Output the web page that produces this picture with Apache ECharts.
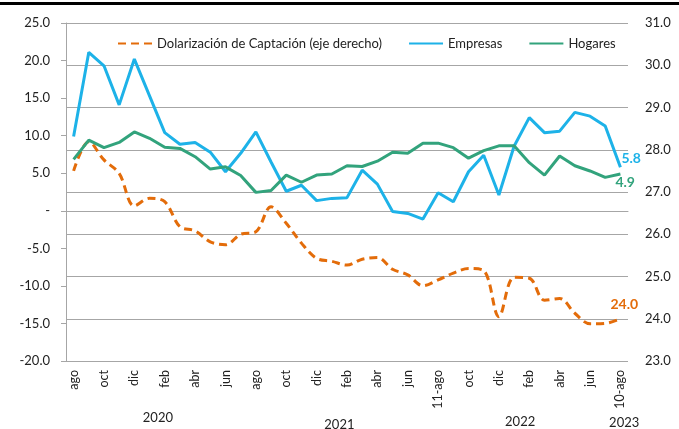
<!DOCTYPE html>
<html>
<head>
<meta charset="utf-8">
<style>
    html, body {margin: 0; padding: 0; background: #fff;}
    #chart {width: 679px; height: 429px;}
</style>
<script src="https://cdn.jsdelivr.net/npm/echarts@6/dist/echarts.min.js"></script>
</head>
<body>
<div id="chart"></div>
<script>
// meses (ago 2020 - ago 2023)
let months = ['ago', 'sep', 'oct', 'nov', 'dic', 'ene', 'feb', 'mar', 'abr', 'may', 'jun', 'jul',
    'ago', 'sep', 'oct', 'nov', 'dic', 'ene', 'feb', 'mar', 'abr', 'may', 'jun', 'jul',
    '11-ago', 'sep', 'oct', 'nov', 'dic', 'ene', 'feb', 'mar', 'abr', 'may', 'jun', 'jul', '10-ago']

let empresas = [9.9, 21.1, 19.3, 14.1, 20.2, 15.3, 10.4, 8.85, 9.1, 7.8, 5.2, 7.65, 10.5, 6.5, 2.6, 3.4, 1.35, 1.65,
    1.75, 5.4, 3.55, -0.1, -0.35, -1.1, 2.4, 1.2, 5.2, 7.4, 2.1, 8.6, 12.4, 10.4, 10.6, 13.1, 12.6, 11.3, 5.8]
let hogares = [6.85, 9.4, 8.4, 9.1, 10.5, 9.65, 8.45, 8.3, 7.2, 5.55, 5.85, 4.7, 2.45, 2.7, 4.75, 3.8, 4.75, 4.9,
    6.0, 5.9, 6.6, 7.8, 7.65, 9.0, 9.0, 8.4, 7.0, 8.0, 8.65, 8.65, 6.4, 4.75, 7.3, 6.0, 5.3, 4.45, 4.9]
// eje derecho
let dolarizacion = [27.5, 28.19, 27.76, 27.44, 26.67, 26.85, 26.77, 26.18, 26.08, 25.82, 25.75, 26.0, 26.06, 26.65,
    26.26, 25.79, 25.43, 25.36, 25.27, 25.41, 25.45, 25.17, 25.04, 24.78, 24.92, 25.08, 25.19, 25.14, 24.05, 24.98,
    24.96, 24.44, 24.48, 24.13, 23.88, 23.89, 24.0]

// etiquetas de año: texto, posición (índice de categoría)
let yearNames = ['2020', '2021', '2022', '2023']
let yearAt = [5.55, 17.5, 29.4, 36.25]
let yearTop = [418, 425, 422, 423]

let fontFamily = 'Lato, "Liberation Sans", sans-serif'
let textColor = '#222'

let chart = echarts.init(document.getElementById('chart'))

// etiqueta del último dato
function endLabel(color, offset) {
    return {
        show: true,
        distance: 0,
        offset: offset,
        color: color,
        fontWeight: 'bold',
        fontSize: 14,
        fontFamily: fontFamily,
        formatter: function (p) {
            return p.value.toFixed(1)
        }
    }
}

chart.setOption({
    animation: false,
    backgroundColor: '#fff',
    grid: {left: 66, right: 51, top: 23, bottom: 68},
    legend: {
        left: 112,
        top: 32,
        itemGap: 26,
        itemWidth: 34,
        itemHeight: 14,
        itemStyle: {opacity: 0},
        textStyle: {fontSize: 13, color: textColor, fontFamily: fontFamily},
        data: ['Dolarización de Captación (eje derecho)', 'Empresas', 'Hogares']
    },
    xAxis: {
        type: 'category',
        data: months,
        boundaryGap: true,
        axisLine: {lineStyle: {color: '#a6a6a6', width: 1}},
        axisTick: {show: false},
        axisLabel: {
            interval: 1,
            rotate: 90,
            margin: 9,
            fontSize: 12.5,
            color: textColor,
            fontFamily: fontFamily
        }
    },
    yAxis: [{
        type: 'value',
        min: -20,
        max: 25,
        interval: 5,
        splitLine: {show: false},
        axisLine: {show: true, lineStyle: {color: '#a6a6a6', width: 1}},
        axisTick: {show: true, length: 5, lineStyle: {color: '#a6a6a6'}},
        axisLabel: {
            margin: 16,
            fontSize: 13,
            color: textColor,
            fontFamily: fontFamily,
            formatter: function (v) {
                return v === 0 ? '-' : v.toFixed(1)
            }
        }
    }, {
        type: 'value',
        min: 23,
        max: 31,
        interval: 1,
        splitLine: {lineStyle: {color: '#a6a6a6', width: 1}},
        axisLine: {show: false},
        axisTick: {show: false},
        axisLabel: {
            margin: 17,
            fontSize: 13,
            color: textColor,
            fontFamily: fontFamily,
            formatter: function (v) {
                return v.toFixed(1)
            }
        }
    }],
    series: [
        {
            name: 'Dolarización de Captación (eje derecho)',
            type: 'line',
            yAxisIndex: 1,
            data: dolarizacion,
            smooth: 0.35,
            symbol: 'none',
            lineStyle: {color: '#e36c0a', width: 3, type: [8, 5]},
            itemStyle: {color: '#e36c0a'},
            endLabel: endLabel('#e36c0a', [-10, -14])
        },
        {
            name: 'Empresas',
            type: 'line',
            data: empresas,
            symbol: 'none',
            lineStyle: {color: '#1db2e8', width: 3},
            itemStyle: {color: '#1db2e8'},
            endLabel: endLabel('#1db2e8', [1, -9])
        },
        {
            name: 'Hogares',
            type: 'line',
            data: hogares,
            symbol: 'none',
            lineStyle: {color: '#32a37c', width: 3},
            itemStyle: {color: '#32a37c'},
            endLabel: endLabel('#32a37c', [-5, 9])
        }
    ]
})

// etiquetas de año y línea superior
function yearX(at) {
    let x0 = chart.convertToPixel({xAxisIndex: 0}, 0)
    let x1 = chart.convertToPixel({xAxisIndex: 0}, 1)
    return x0 + (x1 - x0) * at
}

let graphics = [{
    type: 'rect',
    shape: {x: 0, y: 2, width: 679, height: 3},
    style: {fill: '#000'}
}]
yearNames.forEach(function (name, i) {
    graphics.push({
        type: 'text',
        x: yearX(yearAt[i]),
        y: yearTop[i],
        style: {
            text: name,
            align: 'center',
            verticalAlign: 'middle',
            fill: textColor,
            fontSize: 13,
            fontFamily: fontFamily
        }
    })
})
chart.setOption({graphic: graphics})
</script>
</body>
</html>
